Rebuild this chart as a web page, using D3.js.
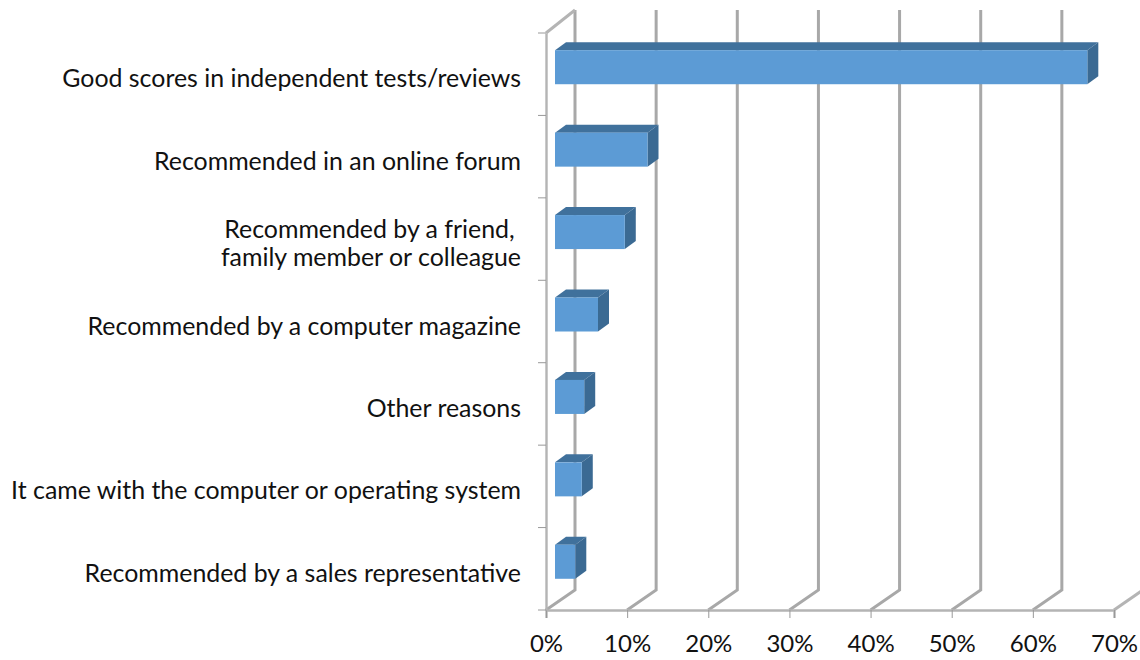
<!DOCTYPE html>
<html>
<head>
<meta charset="utf-8">
<script src="https://cdn.jsdelivr.net/npm/d3@7"></script>
<style>
  html, body { margin: 0; padding: 0; background: #fff; }
  text { font-family: Lato, "Open Sans", sans-serif; fill: #111; }
</style>
</head>
<body>
<svg id="chart" width="1140" height="660"></svg>
<script>
const categories = [
  "Good scores in independent tests/reviews",
  "Recommended in an online forum",
  "Recommended by a friend, |family member or colleague",
  "Recommended by a computer magazine",
  "Other reasons",
  "It came with the computer or operating system",
  "Recommended by a sales representative"
];
const values = [65.6, 11.4, 8.6, 5.3, 3.6, 3.3, 2.5];
const xTicks = [0, 10, 20, 30, 40, 50, 60, 70];

const svg = d3.select("#chart");

const x = d3.scaleLinear().domain([0, 70]).range([546, 1114]);
const y = d3.scaleBand().domain(categories).range([33, 610]);

// 3d look: how far the back wall is shifted from the floor front
const wall = {dx: 29, dy: -20, top: 10};
// bars sit a bit inside the box
const depth = {dx: 11, dy: -8, inset: 9, h: 34, up: 7};

const shadow = svg.append("defs").append("filter").attr("id", "soft")
  .attr("x", "-20%").attr("y", "-20%").attr("width", "140%").attr("height", "140%");
shadow.append("feGaussianBlur").attr("stdDeviation", 0.6);

//gridlines on the back wall plus the bit of floor
const grid = svg.append("g").attr("filter", "url(#soft)");
grid.selectAll("path.wall")
  .data(xTicks.slice(0, -1))
  .enter()
  .append("path")
    .attr("class", "wall")
    .attr("d", d => `M${x(d)},610L${x(d) + wall.dx},${610 + wall.dy}V${wall.top}`)
    .attr("fill", "none")
    .attr("stroke", "#a8a8a8")
    .attr("stroke-width", 3);

// last one only has the floor part
grid.append("path")
  .attr("d", `M${x(70)},610L${x(70) + wall.dx},${610 + wall.dy}`)
  .attr("stroke", "#b4b4b4")
  .attr("stroke-width", 3);

// top of the left side wall
grid.append("path")
  .attr("d", `M${x(0)},33L${x(0) + wall.dx},${wall.top}`)
  .attr("stroke", "#b4b4b4")
  .attr("stroke-width", 3);

//axes
const xAxis = d3.axisBottom(x).tickValues(xTicks).tickSize(8).tickFormat(d => d + "%");
const gx = svg.append("g").attr("transform", "translate(0, 610)").call(xAxis);
gx.select(".domain").attr("stroke", "#b4b4b4").attr("stroke-width", 2.4);
gx.selectAll(".tick line").attr("stroke", "#999");
gx.selectAll(".tick text")
  .attr("y", 25)
  .style("font-size", "24px")
  .attr("fill", "#111");

const yAxis = d3.axisLeft(y).tickValues([]).tickSize(0);
const gy = svg.append("g").attr("transform", "translate(546, 0)").call(yAxis);
gy.select(".domain").attr("stroke", "#b4b4b4").attr("stroke-width", 2.4);

// band edges get the ticks, not the centers
svg.append("g").selectAll("line")
  .data(categories.concat(["end"]))
  .enter()
  .append("line")
    .attr("x1", 538)
    .attr("x2", 546)
    .attr("y1", (d, i) => i < categories.length ? y(d) : y.range()[1])
    .attr("y2", (d, i) => i < categories.length ? y(d) : y.range()[1])
    .attr("stroke", "#999");

//category labels, | means line break
const labels = svg.append("g").selectAll("text")
  .data(categories)
  .enter()
  .append("text")
    .attr("text-anchor", "end")
    .style("font-size", "24.9px")
    .attr("y", d => y(d) + y.bandwidth() / 2 + 13);

labels.each(function(d) {
  const parts = d.split("|");
  d3.select(this).selectAll("tspan")
    .data(parts)
    .enter()
    .append("tspan")
      .attr("x", 521)
      .attr("dy", (p, i) => i == 0 ? (parts.length > 1 ? -14 : 0) : 28)
      .attr("xml:space", "preserve")
      .text(p => p);
});

//bars
const bars = svg.append("g").attr("filter", "url(#soft)")
  .selectAll("g")
  .data(categories.map((c, i) => ({cat: c, val: values[i]})))
  .enter()
  .append("g");

const left = x(0) + depth.inset;
const right = d => left + x(d.val) - x(0);
const top_ = d => y(d.cat) + y.bandwidth() / 2 - depth.h / 2 - depth.up;

bars.append("path") // top face
  .attr("d", d => `M${left},${top_(d)}l${depth.dx},${depth.dy}H${right(d) + depth.dx}l${-depth.dx},${-depth.dy}Z`)
  .attr("fill", "#41719c");

bars.append("path") // side face
  .attr("d", d => `M${right(d)},${top_(d)}l${depth.dx},${depth.dy}v${depth.h}l${-depth.dx},${-depth.dy}Z`)
  .attr("fill", "#3b6a93");

bars.append("rect") // front
  .attr("x", left)
  .attr("y", d => top_(d))
  .attr("width", d => right(d) - left)
  .attr("height", depth.h)
  .attr("fill", "#5b9bd5");
</script>
</body>
</html>
